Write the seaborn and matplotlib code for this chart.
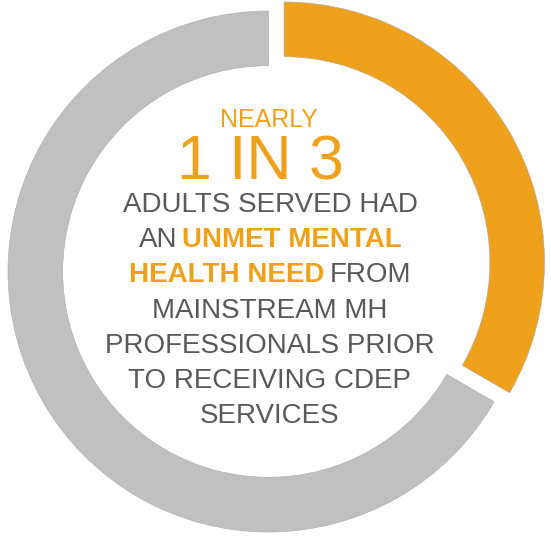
import matplotlib
matplotlib.use("Agg")
import matplotlib.pyplot as plt
import seaborn as sns

# Share of adults served: 1 in 3 had an unmet mental health need
shares = [1, 2]
share_labels = ["Unmet need", "Need met"]
ring_colors = ["#EFA11B", "#C0C0C0"]
explode = [0.069, 0.0]

ORANGE = "#EFA11B"
GRAY = "#58595B"

# Caption lines: each line is a list of (text, colour, weight)
headline_small = "NEARLY"
headline_big = "1 IN 3"
body_lines = [
    [("ADULTS SERVED HAD", GRAY, "normal")],
    [("AN", GRAY, "normal"), ("UNMET MENTAL", ORANGE, "bold")],
    [("HEALTH NEED", ORANGE, "bold"), ("FROM", GRAY, "normal")],
    [("MAINSTREAM MH", GRAY, "normal")],
    [("PROFESSIONALS PRIOR", GRAY, "normal")],
    [("TO RECEIVING CDEP", GRAY, "normal")],
    [("SERVICES", GRAY, "normal")],
]

sns.set_theme(style="white")
plt.rcParams["font.family"] = ["Liberation Sans", "DejaVu Sans"]

W, H = 551, 541
fig = plt.figure(figsize=(W / 100, H / 100), dpi=100)
fig.patch.set_facecolor("white")
ax = fig.add_axes([0, 0, 1, 1])

ax.pie(
    shares,
    labels=None,
    colors=ring_colors,
    startangle=90,
    counterclock=False,
    explode=explode,
    radius=1.0,
    wedgeprops=dict(width=0.21, edgecolor="#A9A9A9", linewidth=0.4),
)
ax.set_xlim(-1.0307, 1.0845)
ax.set_ylim(-1.0345, 1.0422)
ax.set_aspect("auto")
ax.axis("off")

renderer = fig.canvas.get_renderer()


def fx(px):
    return px / W


def fy(py):
    return 1 - py / H


def text_width(s, **kw):
    t = fig.text(0, 0, s, **kw)
    w = t.get_window_extent(renderer).width
    t.remove()
    return w


CX = 270

fig.text(fx(CX - 1), fy(127), headline_small, color=ORANGE, fontsize=18,
         ha="center", va="baseline")
fig.text(fx(CX - 10), fy(180), headline_big, color=ORANGE, fontsize=45,
         ha="center", va="baseline")

BODY_SIZE = 20
baseline0 = 212
line_step = 35.2
for i, segments in enumerate(body_lines):
    y = baseline0 + i * line_step
    widths = [text_width(s, fontsize=BODY_SIZE, weight=w) for s, c, w in segments]
    space = text_width("A A", fontsize=BODY_SIZE) - text_width("AA", fontsize=BODY_SIZE)
    total = sum(widths) + space * (len(segments) - 1)
    x = CX - total / 2
    for (s, c, w), wd in zip(segments, widths):
        fig.text(fx(x), fy(y), s, color=c, fontsize=BODY_SIZE, weight=w,
                 ha="left", va="baseline")
        x += wd + space

fig.savefig("out.png", dpi=100, facecolor="white")
